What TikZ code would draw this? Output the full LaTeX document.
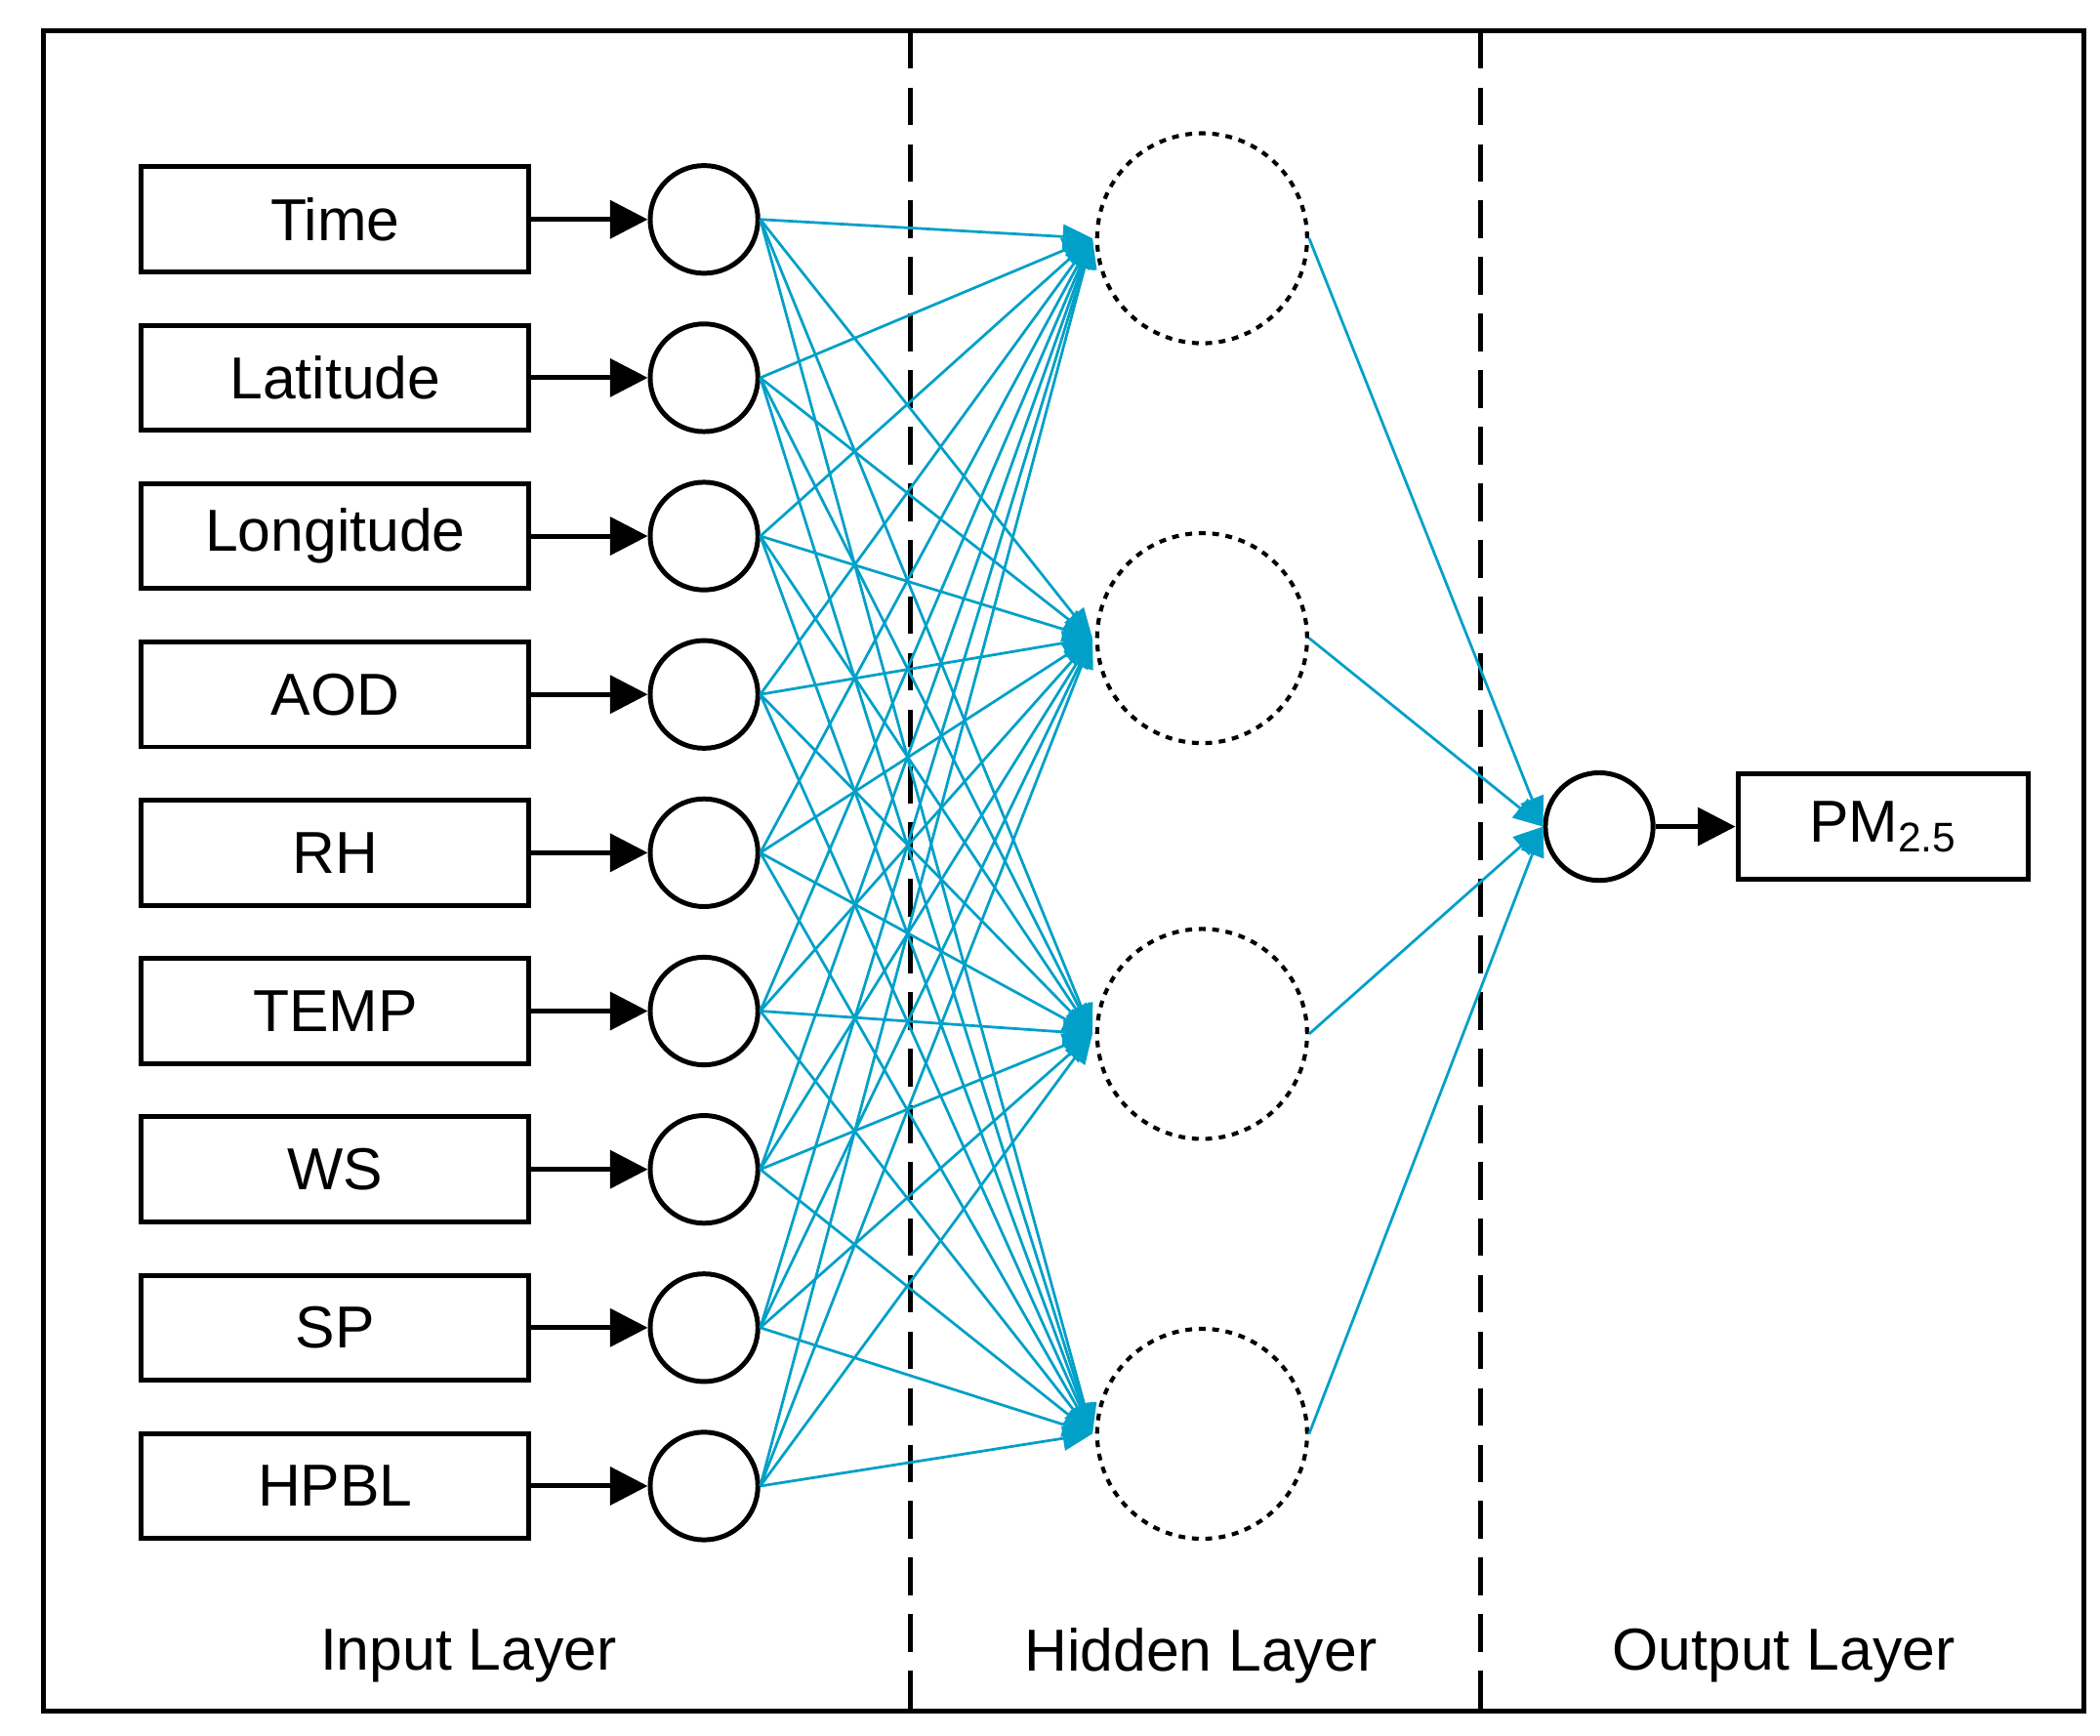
\documentclass[tikz,border=0pt]{standalone}
\usepackage{fontspec}
\setmainfont{Liberation Sans}
\usetikzlibrary{arrows.meta}
\definecolor{cy}{RGB}{0,160,200}
\begin{document}
\begin{tikzpicture}[x=0.5pt,y=-0.5pt,
  box/.style={draw,line width=1.8pt,minimum width=144pt,minimum height=39pt,inner sep=0pt,font=\fontsize{22}{24}\selectfont},
  inc/.style={draw,circle,line width=1.8pt,minimum size=40pt,inner sep=0pt},
  hid/.style={draw,circle,line width=1.5pt,dash pattern=on 2.5pt off 2.5pt,minimum size=78pt,inner sep=0pt},
  blk/.style={line width=1.8pt,-{Triangle[length=14pt,width=14pt]}},
  cyl/.style={cy,line width=1pt,-{Triangle[length=11pt,width=9pt]}},
  lab/.style={font=\fontsize{22}{24}\selectfont}]
\useasboundingbox (0,0) rectangle (1560,1289);
\draw[line width=1.8pt] (32,23) rectangle (1548,1271);
\draw[line width=1.8pt,dash pattern=on 14pt off 7pt] (676,23) -- (676,1271);
\draw[line width=1.8pt,dash pattern=on 14pt off 7pt] (1100,23) -- (1100,1271);
\foreach \t [count=\i] in {Time,Latitude,Longitude,AOD,RH,TEMP,WS,SP,HPBL}{
  \pgfmathsetmacro\yy{163+117.6*(\i-1)}
  \node[box] (b\i) at (249,\yy) {\t};
  \node[inc] (c\i) at (523,\yy) {};
  \draw[blk] (b\i.east) -- (c\i.west);
}
\foreach \y [count=\j] in {177,474,768,1065}{
  \node[hid] (h\j) at (893,\y) {};
}
\foreach \i in {1,...,9}{
  \foreach \j in {1,...,4}{
    \draw[cyl] (c\i.east) -- ([xshift=-1pt]h\j.west);
  }
}
\node[inc] (o) at (1188,614) {};
\foreach \j in {1,...,4}{
  \draw[cyl] (h\j.east) -- (o.west);
}
\node[box,minimum width=108pt] (pm) at (1399,614) {PM\textsubscript{2.5}};
\draw[blk] (o.east) -- (pm.west);
\node[lab] (l1) at (348,1230) {Input Layer};
\node[lab] (l2) at (892,1230) {Hidden Layer};
\node[lab] (l3) at (1325,1230) {Output Layer};
\end{tikzpicture}
\end{document}
